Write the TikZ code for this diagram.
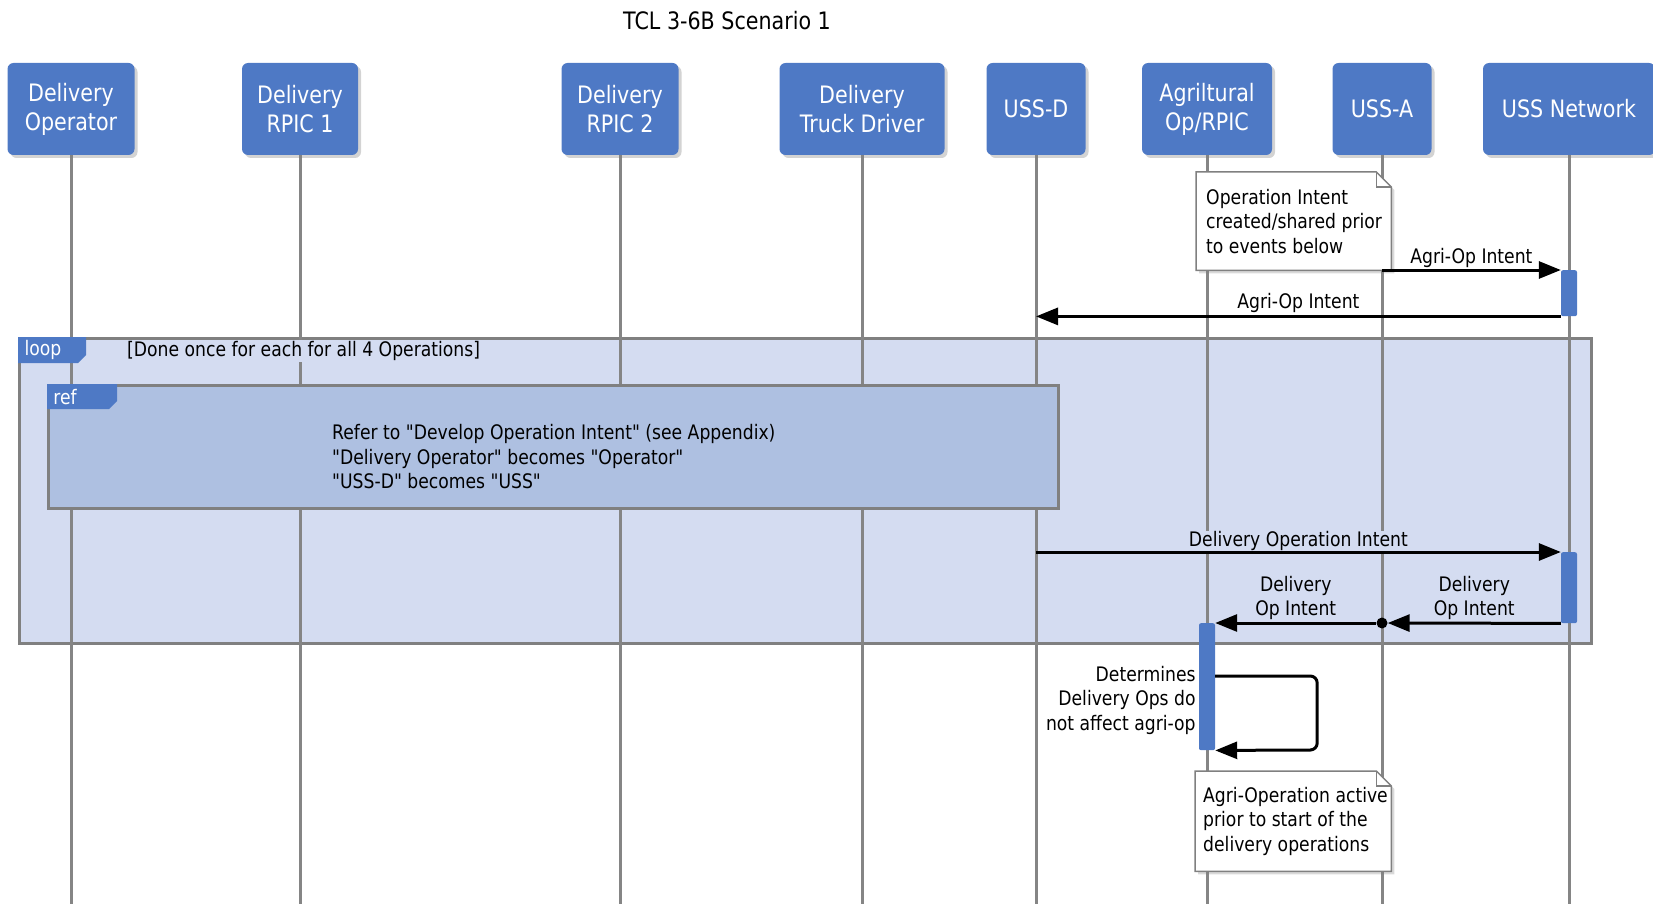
\documentclass[tikz,border=0pt]{standalone}
\usepackage{fontspec}
\setmainfont{DejaVu Sans}[FakeStretch=0.86, Ligatures=TeXOff]
\usetikzlibrary{arrows.meta,shadows,calc}

\definecolor{hdrblue}{HTML}{4E79C5}
\definecolor{loopfill}{HTML}{D4DCF1}
\definecolor{reffill}{HTML}{AEC0E1}
\definecolor{framegray}{HTML}{808080}
\definecolor{lifegray}{HTML}{858585}

\pgfdeclarelayer{bg}
\pgfdeclarelayer{lines}
\pgfdeclarelayer{under}
\pgfsetlayers{bg,lines,under,main}

\tikzset{
  participant/.style={fill=hdrblue, draw=none, rounded corners=6pt, text=white,
    align=center, font=\fontsize{24}{29}\selectfont, minimum height=92pt,
    inner sep=0pt,
    drop shadow={shadow xshift=3pt, shadow yshift=-3pt, opacity=0.35}},
  lifeline/.style={draw=lifegray, line width=3pt},
  activation/.style={fill=hdrblue, draw=none, rounded corners=2pt,
    minimum width=16pt, inner sep=0pt},
  msg/.style={draw=black, line width=3pt, -{Triangle[length=22pt,width=17pt]}},
  lbl/.style={font=\fontsize{20}{24.5}\selectfont, inner sep=0pt, align=center},
  notearea/.style={anchor=north west, inner sep=0pt},
  notetext/.style={font=\fontsize{20}{24.5}\selectfont, align=left,
    anchor=west, inner sep=0pt},
  notebody/.style={fill=white, draw=framegray, line width=1.5pt,
    drop shadow={shadow xshift=3pt, shadow yshift=-3pt, opacity=0.3}},
  notefold/.style={draw=framegray, line width=1.5pt},
  frame/.style={draw=framegray, line width=3pt, inner sep=0pt, anchor=north west},
  tagshape/.style={fill=hdrblue, draw=none},
  tagtext/.style={text=white, font=\fontsize{20}{24}\selectfont, inner sep=0pt},
}

\begin{document}
\begin{tikzpicture}[x=1pt, y=-1pt]
\useasboundingbox (0,0) rectangle (1653,904);

% title
\node[font=\fontsize{24}{29}\selectfont] (title) at (727,21) {TCL 3-6B Scenario 1};

% participants
\node[participant, minimum width=127pt] (op)    at (71,109)   {Delivery\\Operator};
\node[participant, minimum width=116pt] (rpa)   at (300,109)  {Delivery\\RPIC 1};
\node[participant, minimum width=117pt] (rpb)   at (620,109)  {Delivery\\RPIC 2};
\node[participant, minimum width=165pt] (truck) at (862,109)  {Delivery\\Truck Driver};
\node[participant, minimum width=99pt]  (ussd)  at (1036,109) {USS-D};
\node[participant, minimum width=130pt] (agri)  at (1207,109) {Agriltural\\Op/RPIC};
\node[participant, minimum width=99pt]  (ussa)  at (1382,109) {USS-A};
\node[participant, minimum width=172pt] (net)   at (1569,109) {USS Network};

% reference levels
\coordinate (yBot) at (0,904);
\coordinate (yA) at (0,270);
\coordinate (yB) at (0,552);
\coordinate (yC) at (0,623);
\coordinate (yD) at (0,676);

% lifelines
\begin{pgfonlayer}{lines}
\foreach \p in {op,rpa,rpb,truck,ussd,agri,ussa,net}
  \draw[lifeline] (\p.south) -- (\p.south |- yBot);
\end{pgfonlayer}

% loop fragment
\begin{pgfonlayer}{bg}
\node[frame, fill=loopfill, minimum width=1572pt, minimum height=305pt] (loop) at (18,337) {};
\end{pgfonlayer}
\path[tagshape] (loop.north west) -- ++(68,0) -- ++(0,18) -- ++(-8,8) -- ++(-60,0) -- cycle;
\node[tagtext] (looptxt) at (43,350) {loop};
\node[font=\fontsize{20}{24}\selectfont, fill=loopfill, inner sep=1pt, anchor=west] (guard)
  at (126,351) {[Done once for each for all 4 Operations]};

% ref fragment
\node[frame, fill=reffill, minimum width=1010pt, minimum height=123pt] (ref) at (47,384) {};
\path[tagshape] (ref.north west) -- ++(70,0) -- ++(0,17) -- ++(-8,8) -- ++(-62,0) -- cycle;
\node[tagtext] (reftxt) at (65,397) {ref};
\node[lbl, align=left, anchor=west] (refbody) at (332,457)
  {Refer to "Develop Operation Intent" (see Appendix)\\
   "Delivery Operator" becomes "Operator"\\
   "USS-D" becomes "USS"};

% activations
\node[activation, minimum height=46pt, anchor=north] (act1) at (net.south |- yA) {};
\node[activation, minimum height=71pt, anchor=north] (act2) at (net.south |- yB) {};
\node[activation, minimum height=127pt, anchor=north] (act3) at (agri.south |- yC) {};
\node[circle, fill=black, inner sep=0pt, minimum size=11pt] (dot) at (ussa.south |- yC) {};

% notes
\node[notearea, minimum width=195pt, minimum height=98pt] (note1) at (1196,172) {};
\node[notearea, minimum width=196pt, minimum height=100pt] (note2) at (1195,771) {};
\begin{pgfonlayer}{under}
\foreach \n in {note1,note2}{
  \draw[notebody] (\n.north west) -- ($(\n.north east)+(-15,0)$) -- ($(\n.north east)+(0,15)$)
    -- (\n.south east) -- (\n.south west) -- cycle;
  \draw[notefold] ($(\n.north east)+(-15,0)$) |- ($(\n.north east)+(0,15)$);
}
\end{pgfonlayer}
\node[notetext] (note1txt) at ([xshift=10pt]note1.west)
  {Operation Intent\\created/shared prior\\to events below};
\node[notetext] (note2txt) at ([xshift=8pt]note2.west)
  {Agri-Operation active\\prior to start of the\\delivery operations};

% messages
\draw[msg] (ussa.south |- act1.north) --
  node[lbl, fill=white, yshift=12pt] {Agri-Op Intent} (act1.north west);
\draw[msg] (act1.south west) --
  node[lbl, fill=white, yshift=13pt] {Agri-Op Intent} (ussd.south |- act1.south);
\draw[msg] (ussd.south |- act2.north) --
  node[lbl, fill=loopfill, yshift=11pt] {Delivery Operation Intent} (act2.north west);
\draw[msg] (act2.south west) --
  node[lbl, yshift=25pt] {Delivery\\Op Intent} (dot);
\draw[msg] (dot) --
  node[lbl, yshift=25pt] {Delivery\\Op Intent} (act3.north east);
\draw[msg, rounded corners=7pt] (act3.east |- yD) -| ++(102,74) -- (act3.south east);
\node[lbl, align=right, anchor=east] (selflbl) at ([xshift=-3pt]act3.west |- 0,700)
  {Determines\\Delivery Ops do\\not affect agri-op};

\end{tikzpicture}
\end{document}
